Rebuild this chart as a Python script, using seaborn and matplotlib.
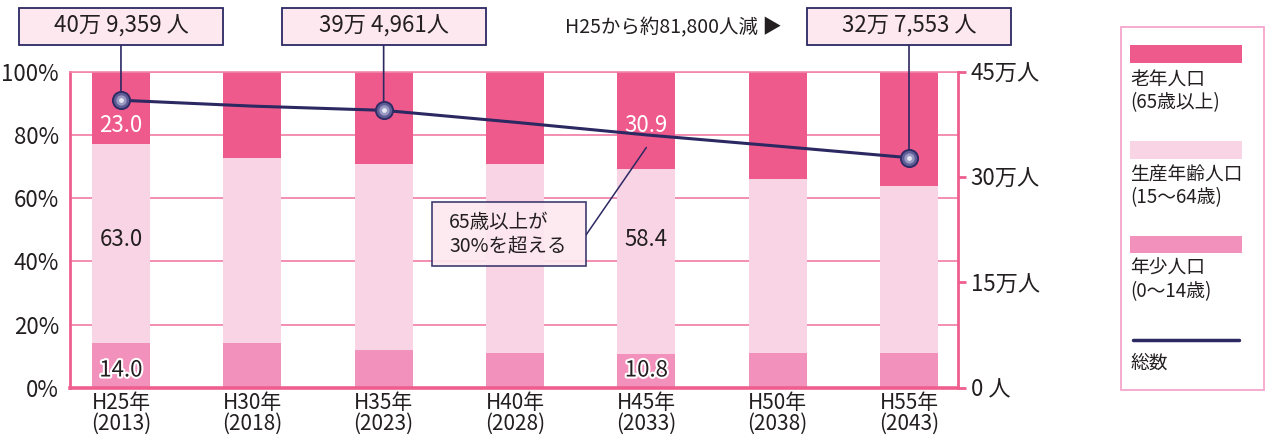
import matplotlib
matplotlib.use('Agg')
import matplotlib.pyplot as plt
import seaborn as sns
import pandas as pd
from matplotlib.patches import Rectangle
from matplotlib.lines import Line2D
import matplotlib.patheffects as pe

# ---------------- data ----------------
categories = ["H25年\n(2013)", "H30年\n(2018)", "H35年\n(2023)", "H40年\n(2028)",
              "H45年\n(2033)", "H50年\n(2038)", "H55年\n(2043)"]
elderly = [23.0, 27.3, 29.3, 29.3, 30.9, 33.8, 36.3]     # 老年人口 %
working = [63.0, 58.5, 58.7, 59.7, 58.4, 55.2, 52.7]     # 生産年齢人口 %
young = [14.0, 14.2, 12.0, 11.0, 10.8, 11.0, 11.0]       # 年少人口 %
total_man = [40.9359, 40.1, 39.4961, 37.8, 36.0, 34.4, 32.7553]  # 総数 (万人)
callout_idx = [0, 2, 6]
callout_text = ["40万 9,359 人", "39万 4,961人", "32万 7,553 人"]
label_idx = [0, 4]
pct_ticks = [0, 20, 40, 60, 80, 100]
pct_labels = ["0%", "20%", "40%", "60%", "80%", "100%"]
pop_ticks = [0, 15, 30, 45]
pop_labels = ["0 人", "15万人", "30万人", "45万人"]
legend_labels = [["老年人口", "(65歳以上)"], ["生産年齢人口", "(15～64歳)"],
                 ["年少人口", "(0～14歳)"], ["総数"]]

# ---------------- style ----------------
sns.set_theme(style='white')
plt.rcParams['font.family'] = ['Noto Sans CJK JP', 'DejaVu Sans']

C_OLD = '#ef5a8c'
C_WORK = '#f9d4e5'
C_YOUNG = '#f291bb'
NAVY = '#2b2862'
PINK = '#ee5f8e'
GRID = '#f286ae'
TXT = '#231f20'
BOXFC = '#fde8f0'

W, H = 1265, 441
fig = plt.figure(figsize=(W / 100, H / 100), dpi=100)
ax = fig.add_axes([70 / W, 1 - 387.7 / H, (958 - 70) / W, (387.7 - 71.7) / H])

df = pd.DataFrame({'cat': categories, 'old': elderly, 'work': working,
                   'young': young, 'total': total_man})
df['top'] = df['old'] + df['work'] + df['young']
df['mid'] = df['work'] + df['young']

common = dict(x='cat', width=0.44, errorbar=None, saturation=1, ax=ax,
              linewidth=0, edgecolor='none')
sns.barplot(data=df, y='top', color=C_OLD, **common)
sns.barplot(data=df, y='mid', color=C_WORK, **common)
sns.barplot(data=df, y='young', color=C_YOUNG, **common)

ax.set_xlim(-0.388, 6.373)
ax.set_ylim(0, 100)
ax.set_xlabel('')
ax.set_ylabel('')
ax.set_yticks(pct_ticks)
ax.set_yticklabels(pct_labels)
ax.set_axisbelow(True)
ax.yaxis.grid(True, color=GRID, lw=1.3)
ax.xaxis.grid(False)
ax.tick_params(axis='y', length=0, pad=8, labelsize=16, labelcolor=TXT)
ax.tick_params(axis='x', length=0, pad=3, labelsize=15, labelcolor=TXT)
for lbl in ax.get_xticklabels():
    lbl.set_linespacing(0.95)
for side, lw, col in [('left', 2.0, PINK), ('bottom', 2.6, PINK), ('top', 1.2, GRID), ('right', 0, PINK)]:
    ax.spines[side].set_color(col)
    ax.spines[side].set_linewidth(lw)
    ax.spines[side].set_visible(lw > 0)

# segment value labels
for i in label_idx:
    ax.text(i, 83, f"{elderly[i]:.1f}", color='white', ha='center', va='center', fontsize=16, zorder=6)
    ax.text(i, 47, f"{working[i]:.1f}", color=TXT, ha='center', va='center', fontsize=16, zorder=6)
    ax.text(i, 5.6, f"{young[i]:.1f}", color=TXT, ha='center', va='center', fontsize=16, zorder=6,
            path_effects=[pe.withStroke(linewidth=3, foreground='white')])

# ---------------- total population line ----------------
ax2 = ax.twinx()
sns.lineplot(x=list(range(len(total_man))), y=total_man, ax=ax2, color=NAVY, lw=2.2)
ax2.set_xlim(-0.388, 6.373)
ax2.set_ylim(0, 45)
ax2.set_yticks(pop_ticks)
ax2.set_yticklabels(pop_labels)
ax2.set_ylabel('')
ax2.tick_params(axis='y', direction='out', length=6, width=2, color=PINK, pad=3,
                labelsize=16, labelcolor=TXT, left=False, right=True)
for side in ['left', 'top', 'bottom']:
    ax2.spines[side].set_visible(False)
ax2.spines['right'].set_color(PINK)
ax2.spines['right'].set_linewidth(2.0)
ax2.grid(False)

mx = [i for i in callout_idx]
my = [total_man[i] for i in callout_idx]
ax2.scatter(mx, my, s=190, color='#2f2c66', zorder=7, linewidths=0)
ax2.scatter(mx, my, s=120, color='#5f5d95', zorder=8, linewidths=0)
ax2.scatter(mx, my, s=55, color='#9a99c4', zorder=9, linewidths=0)
ax2.scatter(mx, my, s=12, color='#e8e8f4', zorder=10, linewidths=0)

# ---------------- callout boxes ----------------
fig.canvas.draw()
for i, txt in zip(callout_idx, callout_text):
    cx = ax2.transData.transform((i, 0))[0]
    box_w, y_top, y_bot = 204, 8, 45
    fig.add_artist(Rectangle(((cx - box_w / 2) / W, 1 - y_bot / H), box_w / W, (y_bot - y_top) / H,
                             transform=fig.transFigure, fc=BOXFC, ec=NAVY, lw=1.3, zorder=3))
    fig.text(cx / W, 1 - (y_top + y_bot) / 2 / H, txt, ha='center', va='center',
             fontsize=16, color=TXT, zorder=4)
    ax2.annotate('', xy=(i, total_man[i]), xycoords='data',
                 xytext=(i, 1 - y_bot / H), textcoords=('data', 'figure fraction'),
                 arrowprops=dict(arrowstyle='-', color=NAVY, lw=1.2, shrinkA=0, shrinkB=0),
                 zorder=6)

fig.text(565 / W, 1 - 28 / H, "H25から約81,800人減 ▶", ha='left', va='center',
         fontsize=14, color=TXT)

# 65歳以上が30%を超える note
fig.add_artist(Rectangle((432 / W, 1 - 266 / H), (586 - 432) / W, (266 - 202) / H,
                         transform=fig.transFigure, fc=BOXFC, ec=NAVY, lw=1.2, alpha=0.9, zorder=3))
fig.text(449 / W, 1 - 234 / H, "65歳以上が\n30%を超える", ha='left', va='center',
         fontsize=14, color=TXT, linespacing=1.15, zorder=4)
ax.annotate('', xy=(4, 76), xycoords='data', xytext=(586 / W, 1 - 235 / H),
            textcoords='figure fraction',
            arrowprops=dict(arrowstyle='-', color=NAVY, lw=1.1, shrinkA=0, shrinkB=0))

# ---------------- legend panel ----------------
fig.add_artist(Rectangle((1121 / W, 1 - 390 / H), (1264 - 1121) / W, (390 - 27) / H,
                         transform=fig.transFigure, fc='none', ec='#f4a6cc', lw=1.3))
swatches = [(C_OLD, 45, 63), (C_WORK, 141, 159), (C_YOUNG, 236, 253)]
for col, y0, y1 in swatches:
    fig.add_artist(Rectangle((1130 / W, 1 - y1 / H), (1242 - 1130) / W, (y1 - y0) / H,
                             transform=fig.transFigure, fc=col, ec='none'))
fig.add_artist(Line2D([1133 / W, 1239 / W], [1 - 340 / H, 1 - 340 / H],
                      transform=fig.transFigure, color=NAVY, lw=2.5))
text_rows = [[80, 103], [175, 198], [268, 292], [363]]
for lines, ys in zip(legend_labels, text_rows):
    for t, y in zip(lines, ys):
        fig.text(1130 / W, 1 - y / H, t, ha='left', va='center', fontsize=13.5, color=TXT)

fig.savefig('out.png', dpi=100)
